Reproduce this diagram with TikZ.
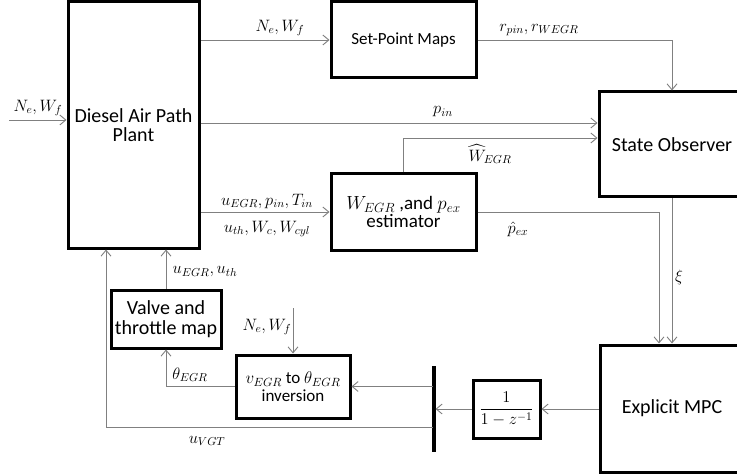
\RequirePackage{fix-cm}
\documentclass[tikz,border=0pt]{standalone}
\usepackage{amsmath}
\usepackage{fontspec}
\setmainfont{Carlito}
\usetikzlibrary{arrows.meta}
\definecolor{wiregray}{RGB}{128,128,128}
\begin{document}
\begin{tikzpicture}[x=1pt,y=-1pt,
  blk/.style={draw=black,line width=3pt,inner sep=0pt,align=center},
  wire/.style={draw=wiregray,line width=0.9pt,-{Straight Barb[length=6pt,width=10pt]}},
  lab/.style={font=\fontsize{16.5}{19}\selectfont,inner sep=0pt}]
\clip (0,0) rectangle (737,476);
\fill[white] (0,0) rectangle (737,476);
% blocks
\node[blk,font=\fontsize{20}{18.5}\selectfont,minimum width=131pt,minimum height=246pt] (plant) at (133.5,125) {Diesel Air Path\\Plant};
\node[blk,font=\fontsize{17}{19}\selectfont,minimum width=145pt,minimum height=76pt] (sp) at (403.5,40) {Set-Point Maps};
\node[blk,font=\fontsize{19}{18.5}\selectfont,minimum width=145pt,minimum height=76pt] (est) at (403.5,212) {$W_{EGR}$ ,and $p_{ex}$\\estimator};
\node[blk,font=\fontsize{20}{24}\selectfont,minimum width=146pt,minimum height=105pt] (so) at (672,144.5) {State Observer};
\node[blk,font=\fontsize{20}{24}\selectfont,minimum width=144pt,minimum height=127pt] (mpc) at (672,408.5) {Explicit MPC};
\node[blk,font=\fontsize{16.5}{19}\selectfont,minimum width=67pt,minimum height=58pt] (int) at (506.5,409) {$\dfrac{1}{1-z^{-1}}$};
\node[draw=black,fill=black,line width=0pt,minimum width=3pt,minimum height=85pt,inner sep=0pt] (bar) at (434,408.5) {};
\node[blk,font=\fontsize{17}{17.5}\selectfont,minimum width=114pt,minimum height=63pt] (inv) at (293,386.5) {$v_{EGR}$ to $\theta_{EGR}$\\inversion};
\node[blk,font=\fontsize{20}{20}\selectfont,minimum width=110pt,minimum height=58pt] (valve) at (166,319) {Valve and\\throttle map};
% helper coordinates
\coordinate (in) at (9,120);
\coordinate (pin) at (0,123);
\coordinate (what) at (0,138);
\coordinate (phx) at (659,0);
\coordinate (vgt) at (0,427);
\coordinate (vx) at (106,0);
\coordinate (nin) at (293,308);
% connectors
\draw[wire] (in) -- (in -| plant.west);
\draw[wire] (plant.east |- sp.west) -- (sp.west);
\draw[wire] (sp.east) -| (so.north);
\draw[wire] (plant.east |- pin) -- (so.west |- pin);
\draw[wire] (est.north) |- (so.west |- what);
\draw[wire] (plant.east |- est.west) -- (est.west);
\draw[wire] (est.east) -| (phx |- mpc.north);
\draw[wire] (so.south) -- (mpc.north);
\draw[wire] (mpc.west |- int.east) -- (int.east);
\draw[wire] (int.west) -- (int.west -| bar.east);
\draw[wire] (bar.west |- inv.east) -- (inv.east);
\draw[wire] (bar.west |- vgt) -| (plant.south -| vx);
\draw[wire] (inv.west) -| (valve.south);
\draw[wire] (valve.north) -- (valve.north |- plant.south);
\draw[wire] (nin) -- (inv.north);
% labels
\node[lab] (l1) at (38,108) {$N_e,W_f$};
\node[lab] (l2) at (280,28) {$N_e,W_f$};
\node[lab] (l3) at (539,30) {$r_{pin},r_{WEGR}$};
\node[lab] (l4) at (443,112) {$p_{in}$};
\node[lab] (l5) at (490,154) {$\widehat{W}_{EGR}$};
\node[lab] (l6) at (267,201) {$u_{EGR},p_{in},T_{in}$};
\node[lab] (l7) at (267,229) {$u_{th},W_c,W_{cyl}$};
\node[lab] (l8) at (518,229) {$\hat{p}_{ex}$};
\node[lab] (l9) at (679,277) {$\xi$};
\node[lab] (l10) at (205,272) {$u_{EGR},u_{th}$};
\node[lab] (l11) at (267,327) {$N_e,W_f$};
\node[lab] (l12) at (190,375) {$\theta_{EGR}$};
\node[lab] (l13) at (207,441) {$u_{VGT}$};
\end{tikzpicture}
\end{document}
